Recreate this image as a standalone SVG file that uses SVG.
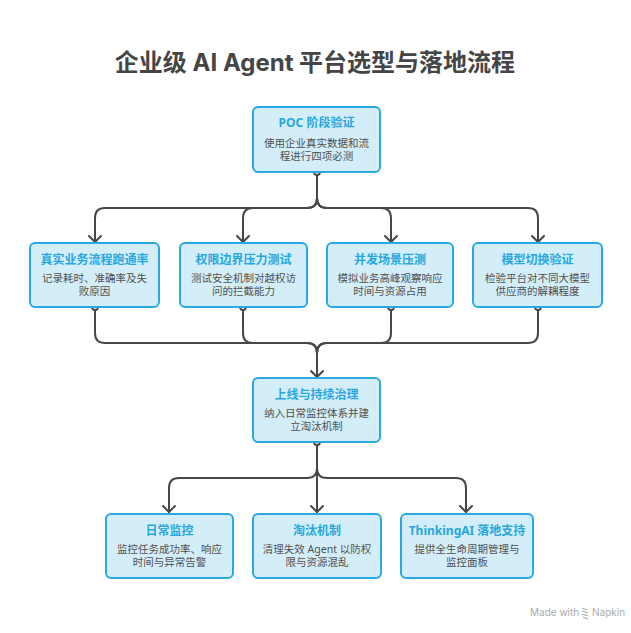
<svg xmlns="http://www.w3.org/2000/svg" width="631" height="633" viewBox="0 0 631 633">
<defs>
<style>
.box{fill:#d4eef9;stroke:#29a9df;stroke-width:2}
.t{font-family:"Noto Sans","Noto Sans CJK SC",sans-serif;font-size:12px;font-weight:bold;fill:#27a7dd;text-anchor:middle}
.b{font-family:"Noto Sans","Noto Sans CJK SC",sans-serif;font-size:10.5px;fill:#505050;text-anchor:middle}
.c{fill:none;stroke:#474747;stroke-width:2;stroke-linecap:round;stroke-linejoin:round}
.dot{fill:#fff;stroke:#474747;stroke-width:1.8}
</style>
</defs>
<rect width="631" height="633" fill="#fff"/>
<text x="315" y="71" font-family="Inter,'Noto Sans','Noto Sans CJK SC',sans-serif" font-size="24" font-weight="bold" fill="#454545" text-anchor="middle">企业级 AI Agent 平台选型与落地流程</text>

<g id="connectors">
<path class="c" d="M317,175 V198 Q317,208 307,208 H105 Q95,208 95,218 V242"/>
<path class="c" d="M317,198 Q317,208 307,208 H253 Q243,208 243,218 V242"/>
<path class="c" d="M317,198 Q317,208 327,208 H381 Q391,208 391,218 V242"/>
<path class="c" d="M317,198 Q317,208 327,208 H528 Q538,208 538,218 V242"/>
<path class="c" d="M89,236 L95,242 L101,236 M237,236 L243,242 L249,236 M385,236 L391,242 L397,236 M532,236 L538,242 L544,236"/>
<circle class="dot" cx="317" cy="172" r="3"/>

<path class="c" d="M95,310 V333 Q95,343 105,343 H307 Q317,343 317,353 V377"/>
<path class="c" d="M243,310 V333 Q243,343 253,343 H307 Q317,343 317,353"/>
<path class="c" d="M391,310 V333 Q391,343 381,343 H327 Q317,343 317,353"/>
<path class="c" d="M538,310 V333 Q538,343 528,343 H327 Q317,343 317,353"/>
<path class="c" d="M311,371 L317,377 L323,371"/>
<circle class="dot" cx="95" cy="307" r="3"/>
<circle class="dot" cx="243" cy="307" r="3"/>
<circle class="dot" cx="391" cy="307" r="3"/>
<circle class="dot" cx="538" cy="307" r="3"/>

<path class="c" d="M317,445 V468 Q317,478 307,478 H179 Q169,478 169,488 V512"/>
<path class="c" d="M317,445 V512"/>
<path class="c" d="M317,468 Q317,478 327,478 H456 Q466,478 466,488 V512"/>
<path class="c" d="M163,506 L169,512 L175,506 M311,506 L317,512 L323,506 M460,506 L466,512 L472,506"/>
<circle class="dot" cx="317" cy="442" r="3"/>
</g>

<g id="poc">
<rect class="box" x="253" y="107" width="127" height="65" rx="5"/>
<text class="t" x="316.5" y="127">POC 阶段验证</text>
<text class="b" x="316.5" y="147">使用企业真实数据和流</text>
<text class="b" x="316.5" y="160">程进行四项必测</text>
</g>

<g id="n1">
<rect class="box" x="30" y="243" width="129" height="64" rx="5"/>
<text class="t" x="94.5" y="264">真实业务流程跑通率</text>
<text class="b" x="94.5" y="282">记录耗时、准确率及失</text>
<text class="b" x="94.5" y="295">败原因</text>
</g>

<g id="n2">
<rect class="box" x="180" y="243" width="127" height="64" rx="5"/>
<text class="t" x="243.5" y="264">权限边界压力测试</text>
<text class="b" x="243.5" y="282">测试安全机制对越权访</text>
<text class="b" x="243.5" y="295">问的拦截能力</text>
</g>

<g id="n3">
<rect class="box" x="327" y="243" width="126" height="64" rx="5"/>
<text class="t" x="390" y="264">并发场景压测</text>
<text class="b" x="390" y="282">模拟业务高峰观察响应</text>
<text class="b" x="390" y="295">时间与资源占用</text>
</g>

<g id="n4">
<rect class="box" x="473" y="243" width="129" height="64" rx="5"/>
<text class="t" x="537.5" y="264">模型切换验证</text>
<text class="b" x="537.5" y="282">检验平台对不同大模型</text>
<text class="b" x="537.5" y="295">供应商的解耦程度</text>
</g>

<g id="live">
<rect class="box" x="253" y="378" width="127" height="64" rx="5"/>
<text class="t" x="316.5" y="399">上线与持续治理</text>
<text class="b" x="316.5" y="417">纳入日常监控体系并建</text>
<text class="b" x="316.5" y="430">立淘汰机制</text>
</g>

<g id="m1">
<rect class="box" x="106" y="514" width="127" height="64" rx="5"/>
<text class="t" x="169.5" y="535">日常监控</text>
<text class="b" x="169.5" y="553">监控任务成功率、响应</text>
<text class="b" x="169.5" y="566">时间与异常告警</text>
</g>

<g id="m2">
<rect class="box" x="253" y="514" width="128" height="64" rx="5"/>
<text class="t" x="317" y="535">淘汰机制</text>
<text class="b" x="317" y="553">清理失效 Agent 以防权</text>
<text class="b" x="317" y="566">限与资源混乱</text>
</g>

<g id="m3">
<rect class="box" x="401" y="514" width="132" height="64" rx="5"/>
<text class="t" x="467" y="535">ThinkingAI 落地支持</text>
<text class="b" x="467" y="553">提供全生命周期管理与</text>
<text class="b" x="467" y="566">监控面板</text>
</g>

<g id="watermark" font-family="Inter,'Noto Sans',sans-serif" font-size="10" fill="#ababab">
<text x="530" y="616">Made with</text>
<path d="M582,608 l5,2 M582,611 l6,2 M582,614 l6,2 M583,617 l5,2" stroke="#ababab" stroke-width="1.1" fill="none"/>
<text x="592" y="616">Napkin</text>
</g>
</svg>
